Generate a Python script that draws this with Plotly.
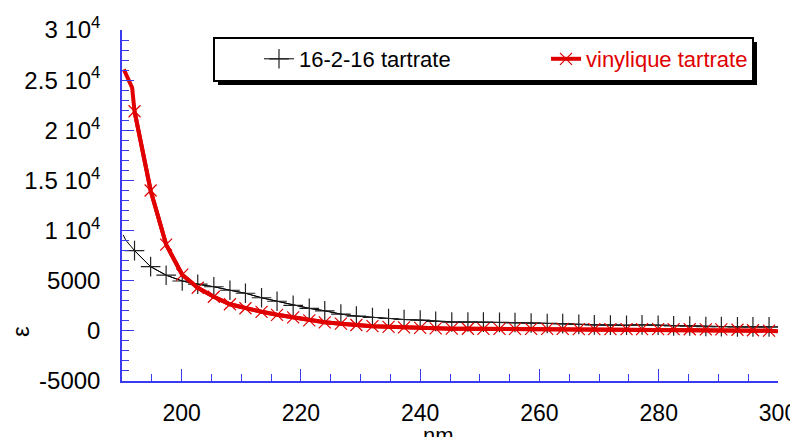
import plotly.graph_objects as go

# wavelengths (nm) where the markers sit
wl_markers = [192.1, 194.8, 197.4, 200.1, 202.7, 205.4, 208.1, 210.7, 213.4, 216.0,
              218.7, 221.4, 224.0, 226.7, 229.3, 232.0, 234.7, 237.3, 240.0, 242.6,
              245.3, 248.0, 250.6, 253.3, 255.9, 258.6, 261.3, 263.9, 266.6, 269.2,
              271.9, 274.6, 277.2, 279.9, 282.5, 285.2, 287.9, 290.5, 293.2, 295.8, 298.5]

eps_16216 = [8000, 6400, 5550, 4970, 4650, 4400, 4050, 3750, 3300, 2950,
             2550, 2240, 2000, 1670, 1470, 1330, 1230, 1130, 1070, 950,
             880, 880, 870, 850, 830, 780, 740, 720, 650, 600,
             570, 560, 600, 560, 500, 480, 430, 420, 400, 400, 400]

eps_vinyl = [21900, 14000, 8600, 5600, 4300, 3400, 2650, 2250, 1900, 1600,
             1350, 1050, 850, 720, 580, 470, 400, 340, 300, 250,
             220, 210, 200, 200, 200, 190, 190, 190, 180, 180,
             180, 180, 170, 170, 170, 160, 150, 140, 110, 60, 20]

# extra line-only points at the ends of each curve
wl_start_16216 = [190.2, 190.6]
eps_start_16216 = [9570, 9070]
wl_start_vinyl = [190.3, 191.7]
eps_start_vinyl = [26070, 24240]
wl_end = [300.0]
eps_end_16216 = [380]
eps_end_vinyl = [-50]

y_tickvals = [-5000, 0, 5000, 10000, 15000, 20000, 25000, 30000]
y_ticktext = ["-5000", "0", "5000", "1 10<sup>4</sup>", "1.5 10<sup>4</sup>",
              "2 10<sup>4</sup>", "2.5 10<sup>4</sup>", "3 10<sup>4</sup>"]
x_tickvals = [200, 220, 240, 260, 280, 300]

name_a = "16-2-16 tartrate"
name_b = "vinylique tartrate"

BLACK = "#000000"
RED = "#e00000"
AXIS = "#3a3af0"
FONT = "Liberation Sans, Arial, Helvetica, sans-serif"

fig = go.Figure()

# full lines (no markers)
fig.add_trace(go.Scatter(
    x=wl_start_16216 + wl_markers + wl_end, y=eps_start_16216 + eps_16216 + eps_end_16216,
    mode="lines", line=dict(color=BLACK, width=1), showlegend=False, hoverinfo="skip"))
fig.add_trace(go.Scatter(
    x=wl_start_vinyl + wl_markers + wl_end, y=eps_start_vinyl + eps_vinyl + eps_end_vinyl,
    mode="lines", line=dict(color=RED, width=4), showlegend=False, hoverinfo="skip"))

# marker traces (with legend entries)
fig.add_trace(go.Scatter(
    x=wl_markers, y=eps_16216, name=name_a, mode="lines+markers",
    line=dict(color=BLACK, width=1),
    marker=dict(symbol="cross-thin", size=14, line=dict(color="#222222", width=1.2)),
    legend="legend"))
fig.add_trace(go.Scatter(
    x=wl_markers, y=eps_vinyl, name=name_b, mode="lines+markers",
    line=dict(color=RED, width=4),
    marker=dict(symbol="x-thin", size=12, line=dict(color=RED, width=1.2)),
    legend="legend2"))

# page is offset by the 8px body margin, so the figure is shrunk to compensate
OFF = 8
PAGE_W, PAGE_H = 798, 437
PL, PR, PT, PB = 122, 778, 30, 381          # plot area in page pixels
W, H = PAGE_W - OFF, PAGE_H - OFF
L, T = PL - OFF, PT - OFF
R, B = PAGE_W - PR, PAGE_H - PB
pw, ph = PR - PL, PB - PT

def px2x(px):
    return (px - PL) / pw

def px2y(py):
    return (PB - py) / ph

# legend frame with drop shadow
fig.add_shape(type="rect", xref="paper", yref="paper",
              x0=px2x(218), x1=px2x(757), y0=px2y(85), y1=px2y(42),
              fillcolor="black", line=dict(width=0), layer="above")
fig.add_shape(type="rect", xref="paper", yref="paper",
              x0=px2x(214), x1=px2x(753), y0=px2y(81), y1=px2y(38),
              fillcolor="white", line=dict(color="black", width=2), layer="above")

leg_common = dict(orientation="h", yanchor="middle", xanchor="left",
                  bgcolor="rgba(0,0,0,0)", borderwidth=0)
fig.update_layout(
    legend=dict(x=px2x(259), y=px2y(59), font=dict(family=FONT, size=22, color="black"),
                **leg_common),
    legend2=dict(x=px2x(546), y=px2y(59), font=dict(family=FONT, size=22, color=RED),
                 **leg_common),
)

fig.update_xaxes(
    range=[190, 300], showgrid=False, zeroline=False,
    showline=True, linecolor=AXIS, linewidth=1.5,
    tickmode="array", tickvals=x_tickvals,
    ticks="inside", ticklen=12, tickwidth=1, tickcolor=AXIS,
    minor=dict(tickmode="linear", tick0=190, dtick=5, ticks="inside", ticklen=7,
               tickwidth=1, tickcolor=AXIS, showgrid=False),
    tickfont=dict(family=FONT, size=23, color="black"),
    ticklabelstandoff=11, ticklabeloverflow="allow",
)
fig.update_yaxes(
    range=[-5000, 30000], showgrid=False, zeroline=False,
    showline=True, linecolor=AXIS, linewidth=1.5,
    tickmode="array", tickvals=y_tickvals, ticktext=y_ticktext,
    ticks="inside", ticklen=12, tickwidth=1, tickcolor=AXIS,
    minor=dict(tickmode="linear", tick0=0, dtick=1000, ticks="inside", ticklen=7,
               tickwidth=1, tickcolor=AXIS, showgrid=False),
    tickfont=dict(family=FONT, size=24, color="black"),
    ticklabelstandoff=15,
)

fig.add_annotation(text="ε", xref="paper", yref="paper", x=px2x(20), y=px2y(332),
                   showarrow=False, textangle=-90, xanchor="center", yanchor="middle",
                   font=dict(family=FONT, size=24, color="black"))
fig.add_annotation(text="nm", xref="paper", yref="paper", x=px2x(438), y=px2y(421),
                   showarrow=False, xanchor="center", yanchor="top",
                   font=dict(family=FONT, size=22, color="black"))

fig.update_layout(
    width=W, height=H, margin=dict(l=L, r=R, t=T, b=B, autoexpand=False),
    plot_bgcolor="white", paper_bgcolor="white",
    font=dict(family=FONT, size=22, color="black"),
    showlegend=True,
)

fig.write_html("out.html")
